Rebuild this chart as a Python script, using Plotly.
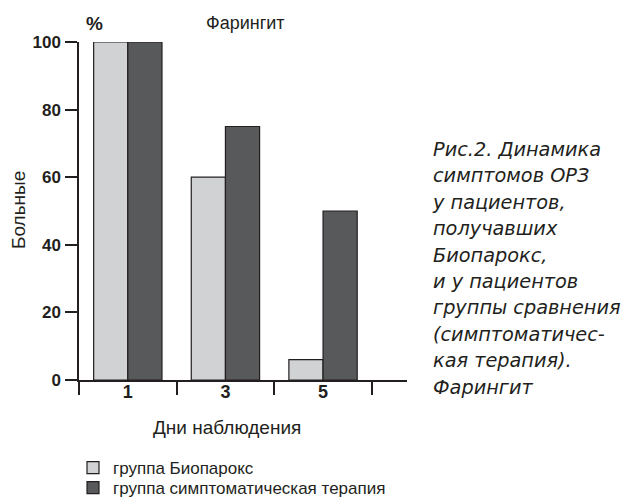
import plotly.graph_objects as go

days = ["1", "3", "5"]
bioparox = [100, 60, 6]
symptomatic = [100, 75, 50]
series_names = ["группа Биопарокс", "группа симптоматическая терапия"]
y_ticks = [0, 20, 40, 60, 80, 100]
caption_lines = [
    "Рис.2. Динамика",
    "симптомов ОРЗ",
    "у пациентов,",
    "получавших",
    "Биопарокс,",
    "и у пациентов",
    "группы сравнения",
    "(симптоматичес-",
    "кая терапия).",
    "Фарингит",
]

W, H = 636, 498
L, R, T, B = 79, 229, 42, 118
PW, PH = W - L - R, H - T - B


def px_x(x):
    return (x - L) / PW


def px_y(y):
    return (H - B - y) / PH


ink = "#231f20"
sans = "Liberation Sans, Arial, sans-serif"
fig = go.Figure()
fig.add_trace(go.Bar(x=days, y=bioparox, name=series_names[0], legend="legend",
                     marker=dict(color="#d1d2d4", line=dict(color=ink, width=1.2))))
fig.add_trace(go.Bar(x=days, y=symptomatic, name=series_names[1], legend="legend2",
                     marker=dict(color="#58595b", line=dict(color=ink, width=1.2))))

leg_common = dict(xref="container", yref="container", xanchor="left", yanchor="middle",
                  font=dict(size=17, family=sans, color=ink), bgcolor="rgba(0,0,0,0)",
                  borderwidth=0, itemwidth=30)
fig.update_layout(
    width=W, height=H,
    margin=dict(l=L, r=R, t=T, b=B, pad=0, autoexpand=False),
    paper_bgcolor="white", plot_bgcolor="white",
    barmode="group", bargap=0.3, bargroupgap=0,
    font=dict(family=sans, color=ink),
    showlegend=True,
    legend=dict(x=73 / W, y=1 - 468 / H, **leg_common),
    legend2=dict(x=73 / W, y=1 - 488 / H, **leg_common),
)
fig.update_xaxes(
    type="category", range=[-0.5, 2.86],
    showline=True, linecolor=ink, linewidth=1.5,
    ticks="outside", tickson="boundaries", ticklen=13, tickwidth=1.5, tickcolor=ink,
    tickfont=dict(size=18, family=sans, color=ink, weight="bold"),
    ticklabelstandoff=-5,
    showgrid=False, zeroline=False,
)
fig.update_yaxes(
    range=[0, 100], tickvals=y_ticks,
    showline=True, linecolor=ink, linewidth=1.5,
    ticks="outside", ticklen=12, tickwidth=1.5, tickcolor=ink,
    tickfont=dict(size=17, family=sans, color=ink, weight="bold"),
    ticklabelstandoff=1,
    showgrid=False, zeroline=False,
)

ann = []
ann.append(dict(text="<b>%</b>", x=px_x(94), y=px_y(23), xref="paper", yref="paper",
                showarrow=False, xanchor="center", yanchor="middle",
                font=dict(size=19, color=ink)))
ann.append(dict(text="Фарингит", x=px_x(245), y=px_y(23), xref="paper", yref="paper",
                showarrow=False, xanchor="center", yanchor="middle",
                font=dict(size=18, color=ink)))
ann.append(dict(text="Больные", x=px_x(18), y=px_y(210), xref="paper", yref="paper",
                showarrow=False, xanchor="center", yanchor="middle", textangle=-90,
                font=dict(size=19, color=ink)))
ann.append(dict(text="Дни наблюдения", x=px_x(227), y=px_y(427), xref="paper", yref="paper",
                showarrow=False, xanchor="center", yanchor="middle",
                font=dict(size=19, color=ink)))
caption = "<br>".join('<span style="font-size:19.3px">%s</span>' % s for s in caption_lines)
ann.append(dict(text=caption, x=px_x(430), y=px_y(150 + 4.5 * 26.4),
                xref="paper", yref="paper", align="left",
                showarrow=False, xanchor="left", yanchor="middle",
                font=dict(size=20.3, family="DejaVu Sans, sans-serif", style="italic", color=ink)))
fig.update_layout(annotations=ann)

fig.write_html("out.html", config={"displayModeBar": False},
               post_script="document.body.style.margin='0';")
